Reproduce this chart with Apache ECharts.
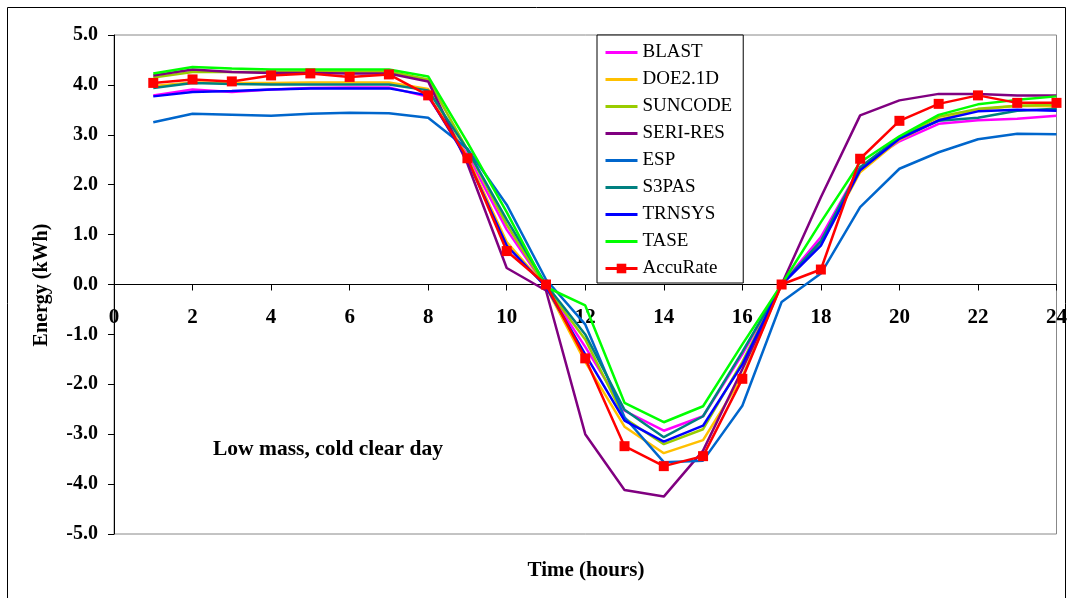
<!DOCTYPE html>
<html><head><meta charset="utf-8">
<script src="https://cdn.jsdelivr.net/npm/echarts@6/dist/echarts.min.js"></script>
<style>html,body{margin:0;padding:0;background:#fff}#c{width:1070px;height:598px}</style>
</head><body><div id="c"></div>
<script>
const hours = [1,2,3,4,5,6,7,8,9,10,11,12,13,14,15,16,17,18,19,20,21,22,23,24];
const BLAST   = [3.79,3.91,3.86,3.91,3.94,3.95,3.95,3.76,2.60,1.10,-0.05,-1.25,-2.53,-2.93,-2.64,-1.40,0.00,0.95,2.35,2.87,3.22,3.29,3.32,3.38];
const DOE21D  = [3.98,4.05,4.04,4.04,4.05,4.05,4.05,3.92,2.55,0.85,-0.05,-1.55,-2.85,-3.38,-3.12,-1.85,0.00,0.80,2.25,2.90,3.30,3.50,3.58,3.57];
const SUNCODE = [4.15,4.26,4.26,4.26,4.27,4.27,4.27,4.11,2.70,1.20,-0.05,-1.10,-2.68,-3.20,-2.90,-1.55,0.00,0.85,2.30,2.95,3.36,3.52,3.58,3.60];
const SERIRES = [4.19,4.31,4.26,4.24,4.24,4.23,4.23,4.07,2.42,0.33,-0.12,-3.00,-4.12,-4.25,-3.33,-1.70,0.00,1.75,3.39,3.69,3.82,3.82,3.79,3.79];
const ESP     = [3.25,3.42,3.40,3.38,3.42,3.44,3.43,3.34,2.72,1.60,0.10,-0.80,-2.66,-3.56,-3.53,-2.43,-0.35,0.22,1.55,2.32,2.65,2.91,3.02,3.01];
const S3PAS   = [3.94,4.04,4.02,4.01,4.01,4.01,4.01,3.89,2.70,1.30,0.00,-1.00,-2.51,-3.06,-2.64,-1.35,0.00,0.87,2.35,2.95,3.28,3.34,3.48,3.52];
const TRNSYS  = [3.77,3.86,3.88,3.91,3.93,3.93,3.93,3.79,2.50,0.78,-0.05,-1.40,-2.73,-3.15,-2.83,-1.60,0.00,0.78,2.29,2.92,3.29,3.47,3.50,3.48];
const TASE    = [4.23,4.36,4.33,4.31,4.31,4.31,4.31,4.17,2.85,1.45,-0.05,-0.42,-2.37,-2.76,-2.44,-1.20,0.00,1.25,2.45,2.97,3.40,3.61,3.70,3.77];
const AccuRate= [4.04,4.11,4.07,4.19,4.23,4.16,4.21,3.79,2.53,0.67,0.00,-1.48,-3.24,-3.64,-3.44,-1.89,0.00,0.30,2.52,3.28,3.62,3.79,3.64,3.64];

const seriesDefs = [
  ['BLAST', BLAST, '#FF00FF'],
  ['DOE2.1D', DOE21D, '#FFC000'],
  ['SUNCODE', SUNCODE, '#99CC00'],
  ['SERI-RES', SERIRES, '#800080'],
  ['ESP', ESP, '#0066CC'],
  ['S3PAS', S3PAS, '#008080'],
  ['TRNSYS', TRNSYS, '#0000FF'],
  ['TASE', TASE, '#00FF00'],
  ['AccuRate', AccuRate, '#FF0000']
];
const FONT = '"Liberation Serif","Times New Roman",serif';

const series = seriesDefs.map(([name, vals, color]) => {
  const isAcc = name === 'AccuRate';
  return {
    name, type: 'line',
    data: hours.map((h, i) => [h, vals[i]]),
    symbol: isAcc ? 'rect' : 'none',
    symbolSize: 10,
    showSymbol: isAcc,
    lineStyle: { color, width: 2.5 },
    itemStyle: { color },
    z: isAcc ? 5 : 2,
    animation: false
  };
});

const chart = echarts.init(document.getElementById('c'), null, { renderer: 'canvas' });
chart.setOption({
  animation: false,
  backgroundColor: '#fff',
  grid: { left: 114, top: 35, width: 944, height: 499, show: true, borderColor: '#888', borderWidth: 1, backgroundColor: 'transparent' },
  xAxis: {
    type: 'value', min: 0, max: 24, interval: 2,
    axisLine: { onZero: true, lineStyle: { color: '#000', width: 1 } },
    axisTick: { show: true, length: 6, lineStyle: { color: '#000' } },
    axisLabel: { color: '#000', fontFamily: FONT, fontWeight: 'bold', fontSize: 21, margin: -227 },
    splitLine: { show: false }
  },
  yAxis: {
    type: 'value', min: -5, max: 5, interval: 1,
    axisLine: { show: true, onZero: false, lineStyle: { color: '#000', width: 1 } },
    axisTick: { show: true, length: 6, lineStyle: { color: '#000' } },
    axisLabel: { color: '#000', fontFamily: FONT, fontWeight: 'bold', fontSize: 20, margin: 16, formatter: v => v.toFixed(1) },
    splitLine: { show: false }
  },
  legend: {
    orient: 'vertical', left: 597, top: 35,
    padding: [8, 11, 5, 7],
    itemGap: 8, itemWidth: 32, itemHeight: 12,
    backgroundColor: '#fff', borderColor: '#000', borderWidth: 1,
    lineStyle: { width: 3 },
    textStyle: { color: '#000', fontFamily: FONT, fontSize: 19, lineHeight: 19 },
    data: seriesDefs.map(d => d[0] === 'AccuRate' ? { name: d[0] } : { name: d[0], itemStyle: { opacity: 0 } })
  },
  graphic: [
    { type: 'rect', shape: { x: 7.5, y: 7.5, width: 1058, height: 620 }, style: { fill: 'none', stroke: '#000', lineWidth: 1 }, silent: true },
    { type: 'text', x: 213, y: 449, style: { text: 'Low mass, cold clear day', font: 'bold 21.5px ' + FONT, fill: '#000', verticalAlign: 'middle' } },
    { type: 'text', x: 42, y: 285, rotation: Math.PI / 2, style: { text: 'Energy (kWh)', font: 'bold 20px ' + FONT, fill: '#000', align: 'center', verticalAlign: 'middle' } },
    { type: 'text', x: 586, y: 571, style: { text: 'Time (hours)', font: 'bold 21px ' + FONT, fill: '#000', align: 'center', verticalAlign: 'middle' } }
  ],
  series
});
</script></body></html>
